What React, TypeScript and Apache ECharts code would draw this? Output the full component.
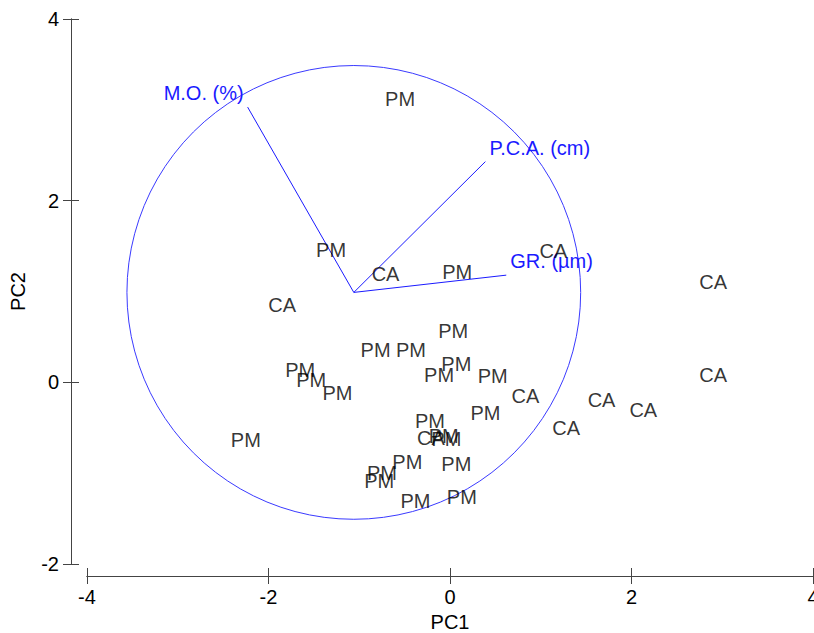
import React, { useEffect, useRef } from "react";
import * as echarts from "echarts";

const pointLabels = [
  "PM", "PM", "CA", "PM", "CA", "CA", "CA", "CA", "PM", "PM",
  "PM", "PM", "PM", "PM", "CA", "PM", "PM", "CA", "PM", "PM",
  "PM", "PM", "PM", "PM", "PM", "PM", "CA", "CA", "CA", "PM",
  "PM", "PM", "PM",
];
const pc1Values = [
  -0.55, -1.31, -0.71, 0.08, 1.14, -1.85, 2.90, 2.90, 0.035, -0.82,
  -0.43, 0.07, -0.12, 0.47, 0.83, 0.39, -0.22, -0.21, -0.04, -0.07,
  -0.47, 0.07, -0.75, -0.78, -0.38, 0.13, 1.28, 1.67, 2.13, -2.25,
  -1.65, -1.53, -1.24,
];
const pc2Values = [
  3.12, 1.46, 1.19, 1.22, 1.45, 0.85, 1.10, 0.08, 0.57, 0.36,
  0.36, 0.20, 0.08, 0.07, -0.15, -0.34, -0.43, -0.61, -0.62, -0.59,
  -0.88, -0.90, -1.00, -1.09, -1.31, -1.26, -0.50, -0.19, -0.31, -0.64,
  0.14, 0.03, -0.12,
];

const vectorNames = ["M.O. (%)", "P.C.A. (cm)", "GR. (µm)"];
const vectorPc1 = [-2.23, 0.39, 0.62];
const vectorPc2 = [3.03, 2.43, 1.18];
const vectorOrigin = [-1.06, 0.99];
const circleRadius = 2.5;

const xTicks = [-4, -2, 0, 2, 4];
const yTicks = [-2, 0, 2, 4];

const FONT = "'Liberation Sans', Arial, sans-serif";
const BLUE = "#1a1aff";
const FS = 20;

export default function App() {
  const ref = useRef<HTMLDivElement>(null);
  useEffect(() => {
    if (!ref.current) return;
    const chart = echarts.init(ref.current, null, { renderer: "svg" });
    const axisCommon = {
      axisLine: { show: true, onZero: false, lineStyle: { color: "#444", width: 1 } },
      splitLine: { show: false },
    };
    const option: any = {
      animation: false,
      backgroundColor: "#fff",
      grid: {
        left: 87,
        right: 1,
        top: 19,
        bottom: 69,
        containLabel: false,
        outerBoundsMode: "none",
      },
      xAxis: [
        {
          ...axisCommon,
          type: "value",
          min: xTicks[0],
          max: xTicks[xTicks.length - 1],
          interval: 2,
          position: "bottom",
          offset: 12,
          axisTick: { show: true, length: 8, lineStyle: { color: "#444" } },
          axisLabel: { fontSize: FS, color: "#000", fontFamily: FONT, margin: 11 },
          name: "PC1",
          nameLocation: "middle",
          nameGap: 35,
          nameTextStyle: { fontSize: FS, color: "#000", fontFamily: FONT },
        },
        {
          ...axisCommon,
          type: "value",
          min: xTicks[0],
          max: xTicks[xTicks.length - 1],
          interval: 2,
          position: "bottom",
          offset: 12,
          axisTick: { show: true, inside: true, length: 8, lineStyle: { color: "#444" } },
          axisLabel: { show: false },
        },
      ],
      yAxis: [
        {
          ...axisCommon,
          type: "value",
          min: yTicks[0],
          max: yTicks[yTicks.length - 1],
          interval: 2,
          position: "left",
          offset: 16,
          axisTick: { show: true, length: 8, lineStyle: { color: "#444" } },
          axisLabel: { fontSize: FS, color: "#000", fontFamily: FONT, margin: 12 },
          name: "PC2",
          nameLocation: "middle",
          nameGap: 43,
          nameTextStyle: { fontSize: FS, color: "#000", fontFamily: FONT },
        },
        {
          ...axisCommon,
          type: "value",
          min: yTicks[0],
          max: yTicks[yTicks.length - 1],
          interval: 2,
          position: "left",
          offset: 16,
          axisTick: { show: true, inside: true, length: 8, lineStyle: { color: "#444" } },
          axisLabel: { show: false },
        },
      ],
      series: [
        {
          type: "custom",
          coordinateSystem: "cartesian2d",
          clip: false,
          silent: true,
          data: [[vectorOrigin[0], vectorOrigin[1], circleRadius]],
          renderItem: (params: any, api: any) => {
            const c = api.coord([api.value(0), api.value(1)]);
            const s = api.size([api.value(2), api.value(2)]);
            return {
              type: "circle",
              shape: { cx: c[0], cy: c[1], r: s[0] },
              style: { fill: "none", stroke: "#3a3aff", lineWidth: 1 },
            };
          },
        },
        {
          type: "custom",
          coordinateSystem: "cartesian2d",
          clip: false,
          silent: true,
          data: vectorNames.map((_, i) => [vectorPc1[i], vectorPc2[i], i]),
          renderItem: (params: any, api: any) => {
            const tip = api.coord([api.value(0), api.value(1)]);
            const org = api.coord(vectorOrigin);
            const idx = api.value(2);
            const left = tip[0] < org[0];
            return {
              type: "group",
              children: [
                {
                  type: "line",
                  shape: { x1: org[0], y1: org[1], x2: tip[0], y2: tip[1] },
                  style: { stroke: BLUE, lineWidth: 1 },
                },
                {
                  type: "text",
                  x: tip[0] + (left ? -4 : 4),
                  y: tip[1] - 14,
                  style: {
                    text: vectorNames[idx],
                    fill: BLUE,
                    fontSize: FS,
                    fontFamily: FONT,
                    align: left ? "right" : "left",
                    verticalAlign: "middle",
                  },
                },
              ],
            };
          },
        },
        {
          type: "scatter",
          symbolSize: 1,
          itemStyle: { color: "rgba(0,0,0,0)" },
          data: pointLabels.map((n, i) => ({ name: n, value: [pc1Values[i], pc2Values[i]] })),
          label: {
            show: true,
            position: "inside",
            formatter: (p: any) => p.name,
            fontSize: FS,
            color: "#000",
            fontFamily: FONT,
          },
          labelLayout: { hideOverlap: false },
        },
      ],
    };
    chart.setOption(option);
    return () => chart.dispose();
  }, []);
  return (
    <div
      ref={ref}
      style={{ position: "absolute", left: 0, top: 0, width: 814, height: 633 }}
    />
  );
}
